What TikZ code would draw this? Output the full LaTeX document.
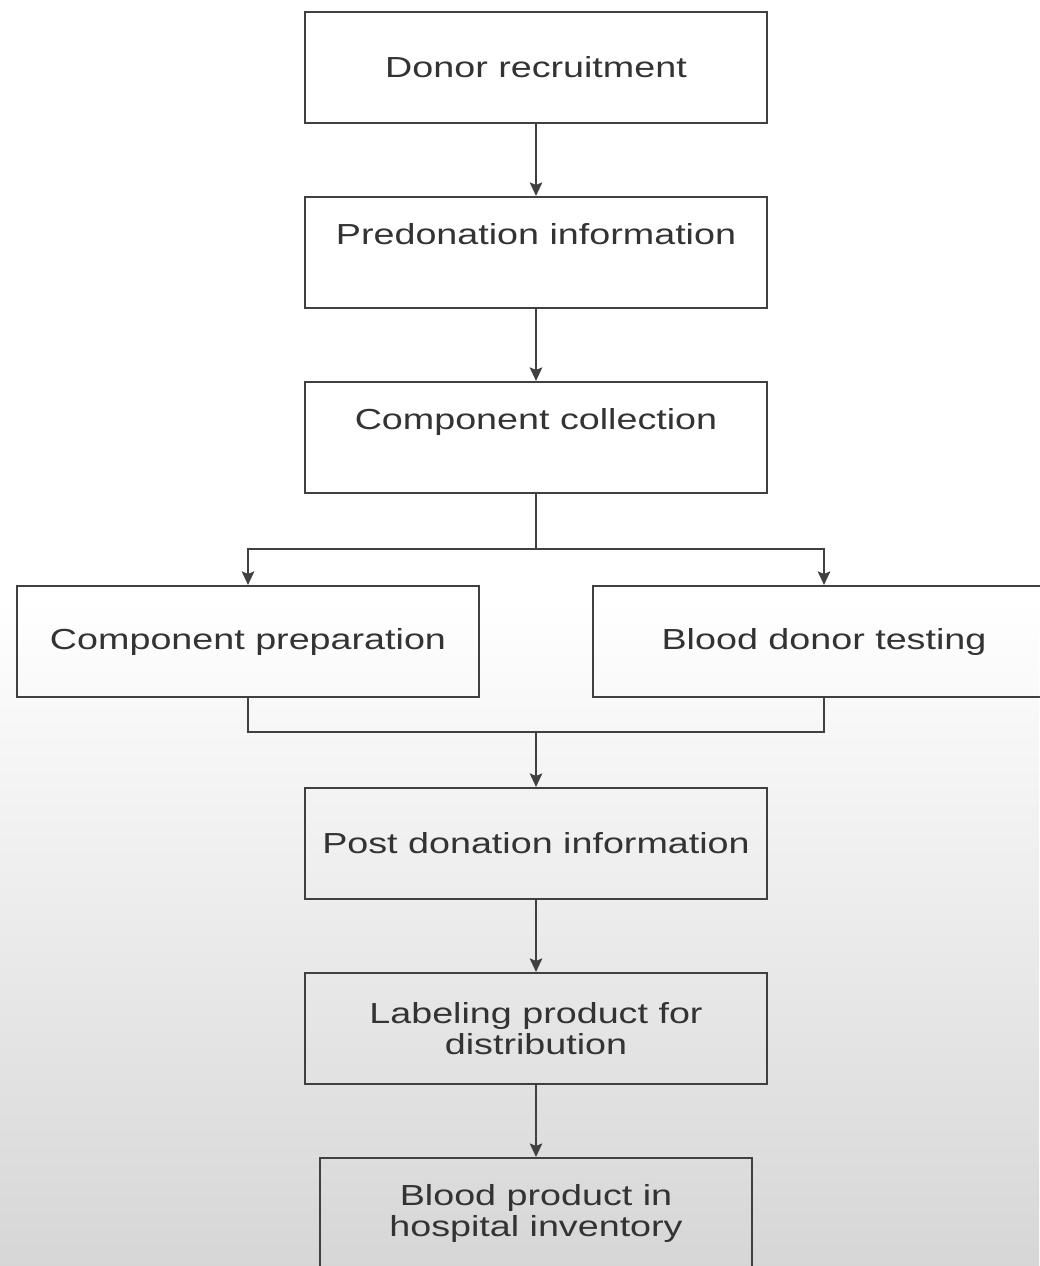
\documentclass[tikz,border=0pt]{standalone}
\usepackage{fontspec}
\setmainfont[FakeStretch=1.3]{Liberation Sans}
\usetikzlibrary{positioning, arrows.meta}
\tikzset{node distance = 3.7cm, on grid,
	 >= {Stealth[length = 2.7mm, width = 2.5mm, inset = 0.5mm]},
	 stage/.style = {draw = black!75, line width = 1.2pt,
			 minimum width = 9.24cm, minimum height = 2.22cm,
			 align = center, text = black!80,
			 font = \fontsize{16.5}{17.5}\selectfont},
	 high text/.style = {text depth = 0.75cm},
	 flow/.style = {draw = black!75, line width = 1.2pt}}

\begin{document}
\begin{tikzpicture}
      \useasboundingbox (0,0) rectangle (20.78,-25.32);
      % page background
      \fill [white] (0,0) rectangle (20.78,-12);
      \shade [top color = white, bottom color = black!16]
	      (0,-12) rectangle (20.78,-25.32);
      \node [stage] (recruit) at (10.72,-1.35) {Donor recruitment};
      \node [stage, high text] (predon) [below = of recruit] {Predonation information};
      \node [stage, high text] (collect) [below = of predon] {Component collection};
      \node [stage] (prep) [below left = 4.08cm and 5.76cm of collect] {Component preparation};
      \node [stage] (test) [below right = 4.08cm and 5.76cm of collect] {Blood donor testing};
      \node [stage] (post) [below = 8.12cm of collect] {Post donation information};
      \node [stage] (label) [below = of post] {Labeling product for\\distribution};
      \node [stage, minimum width = 8.64cm] (stock) [below = of label] {Blood product in\\hospital inventory};
      \coordinate [below = 1.1cm of collect.south] (split);
      \coordinate [above = 1.1cm of post.north] (merge);
      % connectors
      \draw [flow, ->] (recruit) -- (predon);
      \draw [flow, ->] (predon) -- (collect);
      \draw [flow] (collect) -- (split);
      \draw [flow, ->] (split) -| (prep);
      \draw [flow, ->] (split) -| (test);
      \draw [flow] (prep) |- (merge) -| (test);
      \draw [flow, ->] (merge) -- (post);
      \draw [flow, ->] (post) -- (label);
      \draw [flow, ->] (label) -- (stock);
\end{tikzpicture}
\end{document}
